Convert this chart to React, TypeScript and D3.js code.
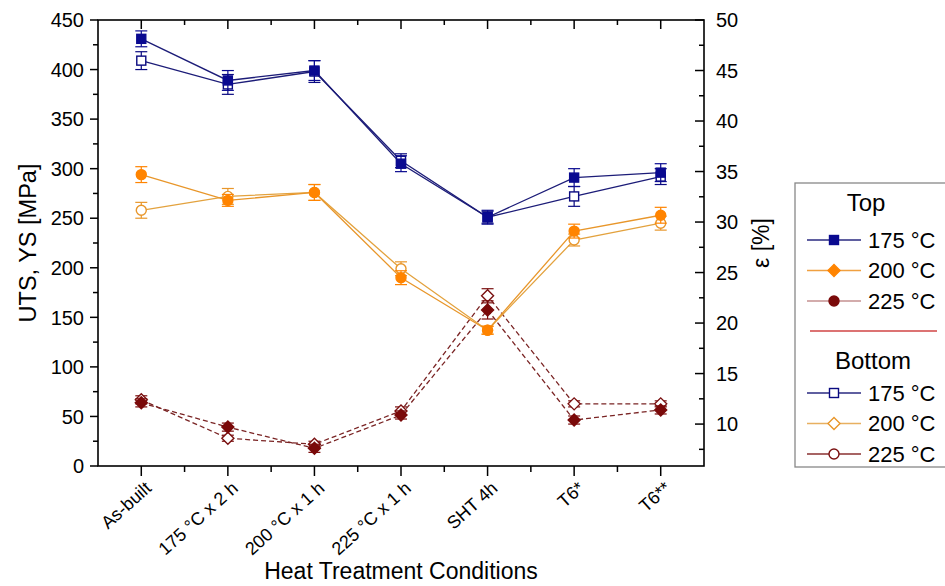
import React from "react";
import * as d3 from "d3";

const categories = ["As-built", "175 °C x 2 h", "200 °C x 1 h", "225 °C x 1 h", "SHT 4h", "T6*", "T6**"];
const top175 = [431, 389, 399, 305, 251, 291, 296];
const top175Err = [8, 10, 10, 8, 7, 9, 9];
const bot175 = [409, 385, 398, 308, 251, 272, 292];
const bot175Err = [9, 10, 11, 7, 6, 10, 8];
const top200 = [294, 268, 276, 190, 137, 237, 253];
const top200Err = [8, 6, 8, 7, 4, 7, 8];
const bot200 = [258, 272, 276, 199, 137, 228, 245];
const bot200Err = [8, 8, 8, 7, 4, 6, 7];
const top225 = [12.1, 9.7, 7.6, 10.9, 21.3, 10.4, 11.4];
const top225Err = [0.4, 0.4, 0.4, 0.4, 0.9, 0.4, 0.4];
const bot225 = [12.4, 8.6, 8.0, 11.3, 22.7, 12.0, 12.0];
const bot225Err = [0.4, 0.3, 0.3, 0.4, 0.7, 0.3, 0.3];
const leftTicks = [0, 50, 100, 150, 200, 250, 300, 350, 400, 450];
const rightTicks = [10, 15, 20, 25, 30, 35, 40, 45, 50];

const W = 945, H = 586;
const L = 98, R = 704, T = 20, B = 466;
const FONT = "'Liberation Sans', Arial, sans-serif";

const x = d3.scaleLinear().domain([-0.5, 6.5]).range([L, R]);
const yL = d3.scaleLinear().domain([0, 450]).range([B, T]);
const yR = d3.scaleLinear().domain([5.85, 50]).range([B, T]);

type Shape = "square" | "circle" | "diamond";

function Marker({ cx, cy, shape, color, filled }: { cx: number; cy: number; shape: Shape; color: string; filled: boolean }) {
  const fill = filled ? color : "#fff";
  if (shape === "square") return <rect x={cx - 4.5} y={cy - 4.5} width={9} height={9} fill={fill} stroke={color} strokeWidth={1.4} />;
  if (shape === "circle") return <circle cx={cx} cy={cy} r={5} fill={fill} stroke={color} strokeWidth={1.4} />;
  const s = 6;
  return <path d={`M${cx},${cy - s}L${cx + s},${cy}L${cx},${cy + s}L${cx - s},${cy}Z`} fill={fill} stroke={color} strokeWidth={1.4} />;
}

type Series = { vals: number[]; err: number[]; scale: d3.ScaleLinear<number, number>; line: string; mark: string; shape: Shape; filled: boolean; dash?: string };

const series: Series[] = [
  { vals: bot225, err: bot225Err, scale: yR, line: "#7a2424", mark: "#7a1010", shape: "diamond", filled: false, dash: "5,3" },
  { vals: top225, err: top225Err, scale: yR, line: "#7a2424", mark: "#7a0a0a", shape: "diamond", filled: true, dash: "5,3" },
  { vals: bot200, err: bot200Err, scale: yL, line: "#e3a23e", mark: "#e8962a", shape: "circle", filled: false },
  { vals: top200, err: top200Err, scale: yL, line: "#e8962a", mark: "#ff8400", shape: "circle", filled: true },
  { vals: bot175, err: bot175Err, scale: yL, line: "#1c1c78", mark: "#0a0a80", shape: "square", filled: false },
  { vals: top175, err: top175Err, scale: yL, line: "#1c1c78", mark: "#0a0a90", shape: "square", filled: true },
];

const legendTop = [
  { label: "175 °C", line: "#2a2a80", mark: "#0a0a90", shape: "square" as Shape, filled: true },
  { label: "200 °C", line: "#f0a040", mark: "#ff8400", shape: "diamond" as Shape, filled: true },
  { label: "225 °C", line: "#c49090", mark: "#7a0a0a", shape: "circle" as Shape, filled: true },
];
const legendBottom = [
  { label: "175 °C", line: "#2a2a80", mark: "#0a0a80", shape: "square" as Shape, filled: false },
  { label: "200 °C", line: "#e8b060", mark: "#e8962a", shape: "diamond" as Shape, filled: false },
  { label: "225 °C", line: "#8a3030", mark: "#7a1010", shape: "circle" as Shape, filled: false },
];

export default function App() {
  const idx = d3.range(categories.length);
  const minorX = d3.range(-0.5, 6.6, 0.5).filter((v) => v > -0.5 && v < 6.5 && !Number.isInteger(v));
  const lineGen = (s: Series) =>
    d3.line<number>().x((_, i) => x(i)).y((v) => s.scale(v))(s.vals) || "";

  return (
    <svg width={W} height={H} style={{ position: "absolute", left: 0, top: 0, background: "#fff" }} fontFamily={FONT}>
      <rect x={0} y={0} width={W} height={H} fill="#fff" />
      {series.map((s, si) => (
        <g key={si}>
          <path d={lineGen(s)} fill="none" stroke={s.line} strokeWidth={1.3} strokeDasharray={s.dash} />
          {s.vals.map((v, i) => {
            const cx = x(i);
            const y1 = s.scale(v + s.err[i]);
            const y2 = s.scale(v - s.err[i]);
            return (
              <g key={i}>
                <line x1={cx} x2={cx} y1={y1} y2={y2} stroke={s.mark} strokeWidth={1.2} />
                <line x1={cx - 6} x2={cx + 6} y1={y1} y2={y1} stroke={s.mark} strokeWidth={1.2} />
                <line x1={cx - 6} x2={cx + 6} y1={y2} y2={y2} stroke={s.mark} strokeWidth={1.2} />
                <Marker cx={cx} cy={s.scale(v)} shape={s.shape} color={s.mark} filled={s.filled} />
              </g>
            );
          })}
        </g>
      ))}
      <rect x={L} y={T} width={R - L} height={B - T} fill="none" stroke="#000" strokeWidth={1.6} />
      {idx.map((i) => (
        <g key={"xt" + i}>
          <line x1={x(i)} x2={x(i)} y1={B} y2={B + 10} stroke="#000" strokeWidth={1.5} />
          <line x1={x(i)} x2={x(i)} y1={T} y2={T + 9} stroke="#000" strokeWidth={1.5} />
          <text
            transform={`translate(${x(i) + 7},${B + 19}) rotate(-42)`}
            textAnchor="end"
            fontSize={18}
            dy="0.35em"
          >
            {categories[i]}
          </text>
        </g>
      ))}
      {minorX.map((v) => (
        <g key={"mx" + v}>
          <line x1={x(v)} x2={x(v)} y1={B} y2={B + 6} stroke="#000" strokeWidth={1.5} />
          <line x1={x(v)} x2={x(v)} y1={T} y2={T + 5} stroke="#000" strokeWidth={1.5} />
        </g>
      ))}
      {leftTicks.map((t) => (
        <g key={"l" + t}>
          <line x1={L - 8} x2={L} y1={yL(t)} y2={yL(t)} stroke="#000" strokeWidth={1.5} />
          <text x={L - 14} y={yL(t)} dy="0.36em" textAnchor="end" fontSize={20}>{t}</text>
        </g>
      ))}
      {leftTicks.slice(0, -1).map((t) => (
        <line key={"lm" + t} x1={L - 5} x2={L} y1={yL(t + 25)} y2={yL(t + 25)} stroke="#000" strokeWidth={1.5} />
      ))}
      {rightTicks.map((t) => (
        <g key={"r" + t}>
          <line x1={R - 9} x2={R} y1={yR(t)} y2={yR(t)} stroke="#000" strokeWidth={1.5} />
          <text x={R + 12} y={yR(t)} dy="0.36em" textAnchor="start" fontSize={20}>{t}</text>
        </g>
      ))}
      {d3.range(7.5, 50, 5).map((t) => (
        <line key={"rm" + t} x1={R - 5} x2={R} y1={yR(t)} y2={yR(t)} stroke="#000" strokeWidth={1.5} />
      ))}
      <text transform={`translate(36,${(T + B) / 2}) rotate(-90)`} textAnchor="middle" fontSize={23.5}>UTS, YS [MPa]</text>
      <text transform={`translate(769,${(T + B) / 2}) rotate(-90)`} textAnchor="middle" fontSize={23}>ε [%]</text>
      <text x={401} y={579} textAnchor="middle" fontSize={23}>Heat Treatment Conditions</text>
      <rect x={795} y={183} width={160} height={284} fill="#fff" stroke="#888" strokeWidth={1.3} />
      <text x={866} y={211} textAnchor="middle" fontSize={24}>Top</text>
      {legendTop.map((l, i) => {
        const ly = 240 + i * 30.5;
        return (
          <g key={"lt" + i}>
            <line x1={807} x2={861} y1={ly} y2={ly} stroke={l.line} strokeWidth={1.3} />
            <Marker cx={834} cy={ly} shape={l.shape} color={l.mark} filled={l.filled} />
            <text x={868} y={ly} dy="0.36em" fontSize={22}>{l.label}</text>
          </g>
        );
      })}
      <line x1={810} x2={937} y1={331} y2={331} stroke="#d04545" strokeWidth={1.3} />
      <text x={873} y={369} textAnchor="middle" fontSize={24}>Bottom</text>
      {legendBottom.map((l, i) => {
        const ly = 393 + i * 30.5;
        return (
          <g key={"lb" + i}>
            <line x1={807} x2={861} y1={ly} y2={ly} stroke={l.line} strokeWidth={1.3} />
            <Marker cx={834} cy={ly} shape={l.shape} color={l.mark} filled={l.filled} />
            <text x={868} y={ly} dy="0.36em" fontSize={22}>{l.label}</text>
          </g>
        );
      })}
    </svg>
  );
}
